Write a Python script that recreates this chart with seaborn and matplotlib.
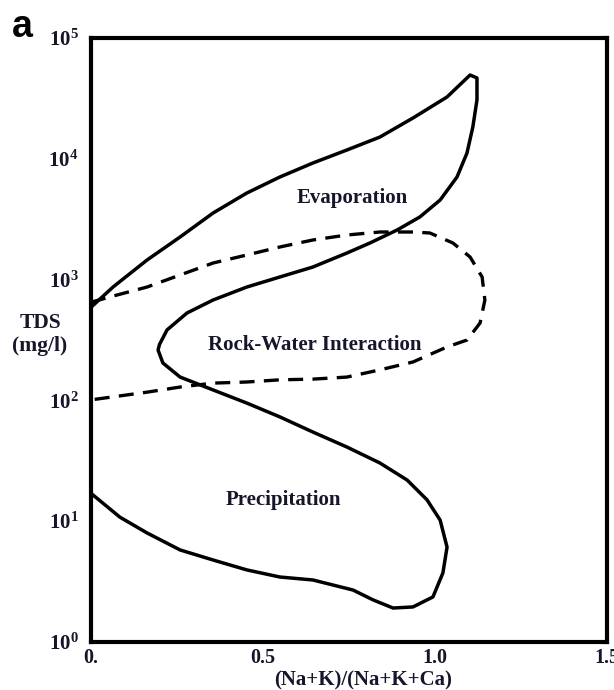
import numpy as np
import pandas as pd
import matplotlib
matplotlib.use("Agg")
import matplotlib.pyplot as plt
import seaborn as sns

# Gibbs diagram boundaries
# outer solid boundary: evaporation -> rock-water -> precipitation
solid_ratio = [0.0, 0.064, 0.163, 0.259, 0.355, 0.453, 0.549, 0.645, 0.744, 0.840,
               0.936, 1.035, 1.102, 1.122, 1.122, 1.110, 1.093, 1.064, 1.015, 0.956,
               0.890, 0.811, 0.744, 0.645, 0.549, 0.453, 0.355, 0.279, 0.221, 0.199,
               0.195, 0.209, 0.259, 0.355, 0.453, 0.549, 0.645, 0.744, 0.840, 0.919,
               0.977, 1.015, 1.035, 1.023, 0.994, 0.936, 0.878, 0.820, 0.762, 0.645,
               0.549, 0.453, 0.355, 0.259, 0.163, 0.084, 0.0]
solid_tds = [590, 868, 1453, 2253, 3560, 5210, 7070, 9230, 11830, 15150,
             21770, 32500, 49400, 46700, 30700, 18340, 11170, 7070, 4560, 3300,
             2575, 2010, 1660, 1271, 1051, 868, 678, 529, 383, 290,
             261, 204, 156, 122, 95, 73, 54.7, 41.1, 30.3, 21.9,
             15.0, 10.2, 6.1, 3.73, 2.36, 1.95, 1.91, 2.23, 2.69, 3.26,
             3.45, 3.95, 4.77, 5.78, 7.99, 10.8, 17]

# dashed rock-water interaction boundary
dash_ratio = [0.0, 0.076, 0.163, 0.259, 0.355, 0.453, 0.549, 0.645, 0.744, 0.840,
              0.936, 0.985, 1.052, 1.102, 1.137, 1.145, 1.131, 1.093, 1.035, 0.936,
              0.840, 0.744, 0.645, 0.549, 0.453, 0.355, 0.259, 0.163, 0.064, 0.0]
dash_tds = [650, 746, 868, 1092, 1372, 1599, 1862, 2128, 2340, 2478,
            2478, 2432, 2010, 1538, 1051, 678, 437, 316, 277, 208,
            179, 156, 150, 148, 142, 139, 129, 117, 107, 101]

region_names = ["Evaporation", "Rock-Water Interaction", "Precipitation"]
region_x = [0.76, 0.65, 0.56]
region_y = [4700, 290, 15]

x_ticks = [0.0, 0.5, 1.0, 1.5]
x_ticklabels = ["0.", "0.5", "1.0", "1.5"]
y_ticks = [1, 10, 100, 1000, 10000, 100000]
y_ticklabels = [r"$\mathrm{10^{%d}}$" % i for i in range(6)]

solid = pd.DataFrame({"ratio": solid_ratio, "tds": solid_tds})
dashed = pd.DataFrame({"ratio": dash_ratio, "tds": dash_tds})

sns.set_style("white")
plt.rcParams["font.family"] = ["Liberation Serif", "DejaVu Serif"]
plt.rcParams["font.weight"] = "bold"
plt.rcParams["mathtext.fontset"] = "custom"
plt.rcParams["mathtext.rm"] = "Liberation Serif:bold"
plt.rcParams["mathtext.bf"] = "Liberation Serif:bold"
plt.rcParams["mathtext.it"] = "Liberation Serif:bold:italic"

txt_col = "#16162a"

fig = plt.figure(figsize=(6.14, 6.9), dpi=100)
ax = fig.add_axes([0.1482, 0.0696, 0.8404, 0.8753])

sns.lineplot(data=solid, x="ratio", y="tds", sort=False, estimator=None,
             color="black", lw=2.5, solid_joinstyle="round",
             solid_capstyle="round", ax=ax)
sns.lineplot(data=dashed, x="ratio", y="tds", sort=False, estimator=None,
             color="black", lw=2.4, linestyle=(0, (4.5, 2.8)),
             dash_joinstyle="round", ax=ax)

for name, xx, yy in zip(region_names, region_x, region_y):
    ax.text(xx, yy, name, ha="center", va="center", fontsize=15,
            fontweight="bold", color=txt_col)

ax.set_yscale("log")
ax.set_xlim(0, 1.5)
ax.set_ylim(1, 100000)
ax.set_xticks(x_ticks)
ax.set_xticklabels(x_ticklabels)
ax.set_yticks(y_ticks)
ax.set_yticklabels(y_ticklabels)
ax.minorticks_off()
ax.tick_params(axis="x", direction="in", length=9, width=2, pad=4,
               labelsize=14.5, labelcolor=txt_col)
ax.tick_params(axis="y", direction="inout", length=10, width=2, pad=4,
               labelsize=15, labelcolor=txt_col)
for lab in ax.get_xticklabels() + ax.get_yticklabels():
    lab.set_fontweight("bold")
for sp in ax.spines.values():
    sp.set_linewidth(3)
    sp.set_color("black")
ax.set_xlabel("")
ax.set_ylabel("")

fig.text(363 / 614, 1 - 680 / 690, "(Na+K)/(Na+K+Ca)", ha="center", va="center",
         fontsize=15, fontweight="bold", color=txt_col)
fig.text(40 / 614, 1 - 335 / 690, "TDS\n(mg/l)", ha="center", va="center",
         fontsize=15.5, fontweight="bold", color=txt_col, linespacing=1.2)
fig.text(12 / 614, 1 - 37 / 690, "a", ha="left", va="baseline", fontsize=27,
         fontweight="bold", family="Liberation Sans", color="black")

fig.savefig("out.png", dpi=100)
